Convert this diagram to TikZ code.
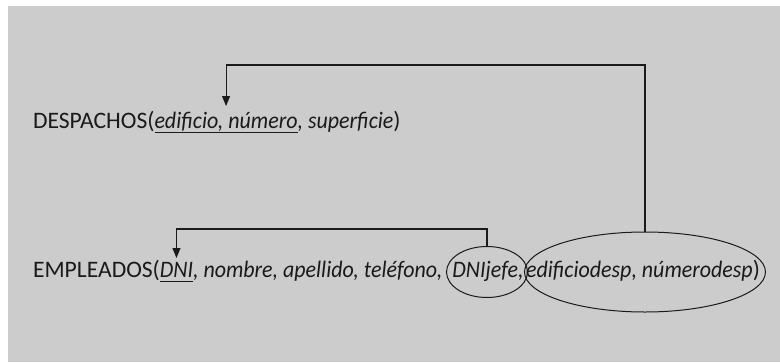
\documentclass[tikz,border=0pt]{standalone}
\usepackage{fontspec}
\setmainfont{Carlito}[ItalicFeatures={FakeStretch=0.93}]
\usetikzlibrary{arrows.meta,shapes.geometric}
\definecolor{bggray}{HTML}{CCCCCC}
\definecolor{ink}{HTML}{1A1A1A}
\begin{document}
\begin{tikzpicture}[x=1pt,y=-1pt,
  txt/.style={inner sep=0pt,outer sep=0pt,font=\fontsize{23.6}{27}\selectfont,text=ink},
  oval/.style={ellipse,draw=ink,line width=1pt,inner sep=0pt,outer sep=0pt},
  link/.style={draw=ink,line width=1.1pt,-{Triangle[length=10pt,width=8pt]}},
  uline/.style={draw=ink,line width=1pt}]
\useasboundingbox (0,0) rectangle (780,362);
\fill[white] (0,0) rectangle (780,362);
\fill[bggray] (8,6) rectangle (780,362);
% DESPACHOS
\node[txt,anchor=base west] (d1) at (33,128) {DESPACHOS(};
\node[txt,anchor=base west] (pk) at (d1.base east) {\itshape edificio, número};
\node[txt,anchor=base west] (d3) at (pk.base east) {\itshape , superficie\/};
\node[txt,anchor=base west] (d4) at (d3.base east) {)};
\draw[uline] ([yshift=-4pt]pk.base west) -- ([yshift=-4pt]pk.base east);
% EMPLEADOS
\node[txt,anchor=base west] (e1) at (33,277) {EMPLEADOS(};
\node[txt,anchor=base west] (dni) at (e1.base east) {\itshape DNI};
\node[txt,anchor=base west] (e3) at (dni.base east) {\itshape , nombre, apellido, teléfono,};
\draw[uline] ([yshift=-4pt]dni.base west) -- ([yshift=-4pt]dni.base east);
\node[oval,minimum width=81pt,minimum height=51pt] (jefe) at (487,272) {};
\node[txt,anchor=base] (jt) at (488,277) {\itshape DNIjefe,};
\node[oval,minimum width=241pt,minimum height=80pt] (big) at (645,272) {};
\node[txt,anchor=base] (bt) at (643,277) {\itshape edificiodesp, númerodesp\/\upshape)};
% connectors
\coordinate (top1) at (0,65);
\coordinate (tip1) at (0,106);
\coordinate (top2) at (0,229);
\coordinate (tip2) at (0,258);
\draw[link] (big.north) -- (big.north |- top1) -| (pk.north |- tip1);
\draw[link] (jefe.north) -- (jefe.north |- top2) -| (dni.north |- tip2);
\end{tikzpicture}
\end{document}
